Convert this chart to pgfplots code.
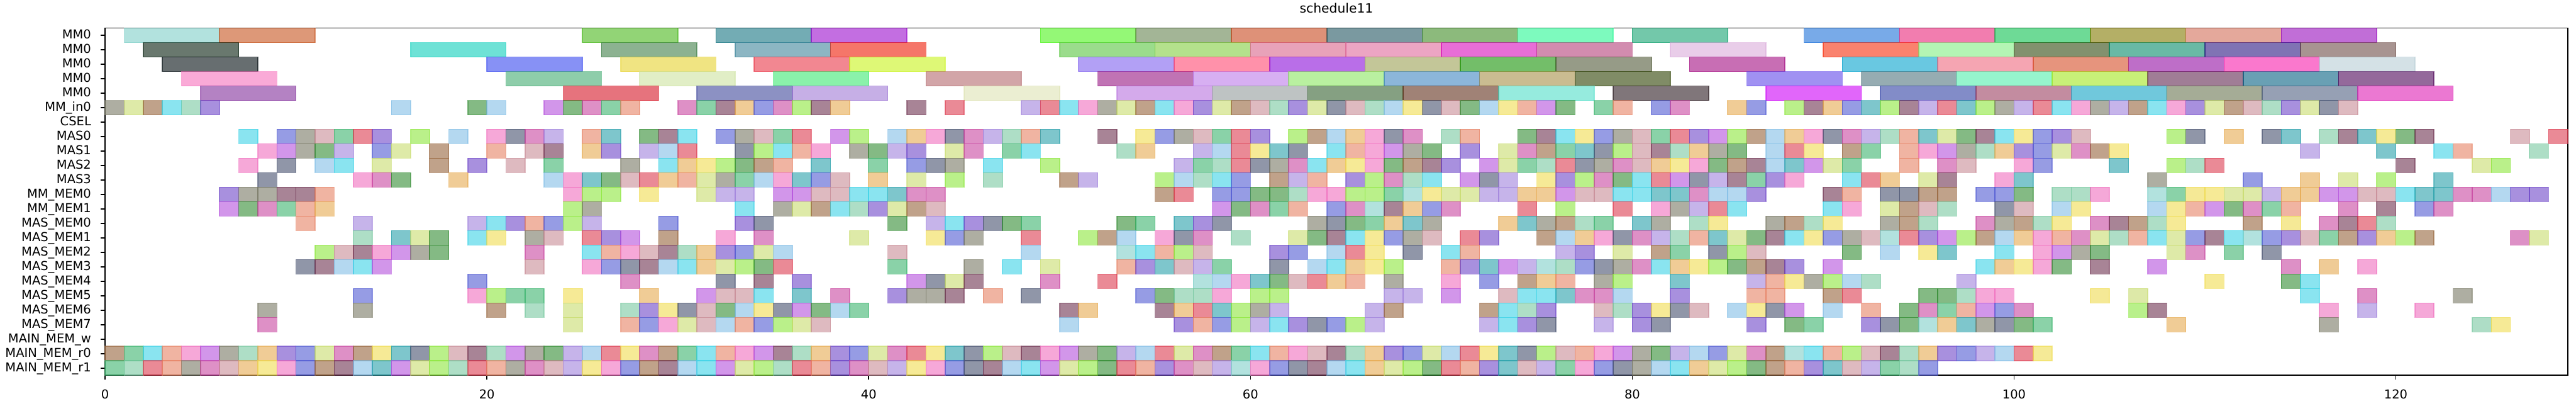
\documentclass[border=0pt]{standalone}
\usepackage{fontspec}
\setmainfont{DejaVu Sans}
\usepackage{pgfplots}
\usepackage{pgfplotstable}
\pgfplotsset{compat=1.18}

% one time unit = 15.2512pt, one row = 11.55pt
\pgfdeclareplotmark{cell}{\pgfpathrectangle{\pgfqpoint{-7.6256pt}{-5.775pt}}{\pgfqpoint{15.2512pt}{11.55pt}}\pgfusepathqfillstroke}
\pgfdeclareplotmark{bar5}{\pgfpathrectangle{\pgfqpoint{-38.128pt}{-5.775pt}}{\pgfqpoint{76.256pt}{11.55pt}}\pgfusepathqfillstroke}

\pgfplotsset{
  boxes/.style={only marks, scatter,
    scatter/use mapped color={draw=mapped color, fill=mapped color, fill opacity=0.6, draw opacity=0.6, line width=0.8pt}},
}
\newcommand\cellrow[2]{%
  \addplot[boxes, mark=cell, point meta={mod(7*\thisrow{x}+11*#1+4*mod(\thisrow{x}*#1,7),23)}]
    table[row sep=\\, x expr=\thisrow{x}+0.5, y expr=#1] {x\\#2};}

% MM0 tasks: start, row, colour index
\pgfplotstableread{
x y c
1 0 23
6 0 24
25 0 25
32 0 26
37 0 27
49 0 28
54 0 29
59 0 30
64 0 31
69 0 32
74 0 33
80 0 34
89 0 35
94 0 36
99 0 37
104 0 38
109 0 39
114 0 40
2 1 41
16 1 42
26 1 43
33 1 44
38 1 45
50 1 46
55 1 47
60 1 48
65 1 49
70 1 50
75 1 51
82 1 52
90 1 53
95 1 54
100 1 55
105 1 56
110 1 57
115 1 58
3 2 59
20 2 60
27 2 61
34 2 62
39 2 63
51 2 64
56 2 65
61 2 66
66 2 67
71 2 68
76 2 69
83 2 70
91 2 71
96 2 72
101 2 73
106 2 74
111 2 75
116 2 76
4 3 77
21 3 78
28 3 79
35 3 80
43 3 81
52 3 82
57 3 83
62 3 84
67 3 85
72 3 86
77 3 87
86 3 88
92 3 89
97 3 90
102 3 91
107 3 92
112 3 93
117 3 94
5 4 95
24 4 96
31 4 97
36 4 98
45 4 99
53 4 100
58 4 101
63 4 102
68 4 103
73 4 104
79 4 105
87 4 106
93 4 107
98 4 108
103 4 109
108 4 110
113 4 111
118 4 112
}\mmtable

\begin{document}
\begin{tikzpicture}
\path[use as bounding box] (-84pt,-24.3pt) rectangle (1974.1pt,299.6pt);
\begin{axis}[
  at={(0,0)}, anchor=south west,
  scale only axis, width=1967.4pt, height=277.2pt,
  xmin=0, xmax=129, ymin=-0.5, ymax=23.5, y dir=reverse,
  axis on top, clip=true,
  axis line style={line width=0.8pt},
  tick align=outside, tick pos=left,
  major tick length=3.5pt,
  every tick/.append style={line width=0.8pt, black},
  xtick={0,20,...,120},
  ytick={0,...,23},
  yticklabels={MM0,MM0,MM0,MM0,MM0,MM\_in0,CSEL,MAS0,MAS1,MAS2,MAS3,MM\_MEM0,MM\_MEM1,MAS\_MEM0,MAS\_MEM1,MAS\_MEM2,MAS\_MEM3,MAS\_MEM4,MAS\_MEM5,MAS\_MEM6,MAS\_MEM7,MAIN\_MEM\_w,MAIN\_MEM\_r0,MAIN\_MEM\_r1},
  /pgf/number format/assume math mode=true,
  ticklabel style={font=\fontsize{9.8}{11}\selectfont},
  xticklabel style={inner sep=0pt, anchor=north, yshift=-7.5pt},
  yticklabel style={inner sep=0pt, anchor=mid east, xshift=-7.5pt},
  title={schedule11},
  title style={font=\fontsize{10.2}{12}\selectfont, at={(0.5,1)}, anchor=base, yshift=6pt, inner sep=0pt},
  point meta min=0, point meta max=112,
  colormap={rnd}{
    rgb255=(60,180,110) rgb255=(200,70,160) rgb255=(80,90,210) rgb255=(230,170,80)
    rgb255=(110,50,80) rgb255=(140,230,60) rgb255=(40,160,170) rgb255=(220,60,80)
    rgb255=(160,130,220) rgb255=(120,120,100) rgb255=(240,110,190) rgb255=(60,210,230)
    rgb255=(150,100,60) rgb255=(200,220,110) rgb255=(110,70,200) rgb255=(120,200,160)
    rgb255=(200,140,150) rgb255=(70,80,110) rgb255=(240,220,80) rgb255=(130,190,230)
    rgb255=(50,140,50) rgb255=(180,80,220) rgb255=(230,130,100)
    rgb255=(127,207,200) rgb255=(198,83,30) rgb255=(73,183,27) rgb255=(22,117,130)
    rgb255=(155,13,205) rgb255=(77,243,27) rgb255=(102,132,80) rgb255=(200,72,30)
    rgb255=(33,85,97) rgb255=(63,140,37) rgb255=(38,247,147) rgb255=(22,163,113)
    rgb255=(30,113,217) rgb255=(233,38,122) rgb255=(13,193,80) rgb255=(130,122,0)
    rgb255=(210,110,88) rgb255=(152,13,188)
    rgb255=(5,30,13) rgb255=(13,207,187) rgb255=(63,127,72) rgb255=(63,133,155)
    rgb255=(238,27,5) rgb255=(88,197,63) rgb255=(130,205,63) rgb255=(217,100,138)
    rgb255=(223,105,155) rgb255=(217,13,188) rgb255=(180,63,122) rgb255=(218,172,218)
    rgb255=(247,47,13) rgb255=(130,238,130) rgb255=(47,72,13) rgb255=(5,138,105)
    rgb255=(43,22,130) rgb255=(110,77,72)
    rgb255=(2,13,17) rgb255=(55,72,238) rgb255=(230,210,47) rgb255=(233,55,72)
    rgb255=(200,243,27) rgb255=(127,97,238) rgb255=(255,72,113) rgb255=(138,13,217)
    rgb255=(155,160,83) rgb255=(22,147,5) rgb255=(80,88,55) rgb255=(163,13,130)
    rgb255=(5,163,205) rgb255=(238,105,127) rgb255=(213,77,38) rgb255=(147,13,163)
    rgb255=(247,30,172) rgb255=(183,205,213)
    rgb255=(247,113,188) rgb255=(67,172,113) rgb255=(205,227,160) rgb255=(60,233,113)
    rgb255=(180,105,110) rgb255=(150,22,130) rgb255=(188,122,233) rgb255=(138,230,97)
    rgb255=(63,133,193) rgb255=(167,143,72) rgb255=(43,63,0) rgb255=(97,72,233)
    rgb255=(80,117,127) rgb255=(80,238,172) rgb255=(163,230,30) rgb255=(97,38,80)
    rgb255=(5,97,130) rgb255=(77,5,88)
    rgb255=(130,47,155) rgb255=(213,22,38) rgb255=(63,72,155) rgb255=(160,122,213)
    rgb255=(222,227,180) rgb255=(183,113,222) rgb255=(147,155,155) rgb255=(52,97,47)
    rgb255=(97,47,27) rgb255=(80,222,200) rgb255=(43,27,33) rgb255=(205,0,247)
    rgb255=(47,63,163) rgb255=(155,63,97) rgb255=(17,163,197) rgb255=(105,117,80)
    rgb255=(80,97,130) rgb255=(222,30,180)},
]
% MM0 lanes (5 time units each)
\addplot[boxes, mark=bar5, point meta=explicit]
  table[x expr=\thisrow{x}+2.5, y=y, meta=c] {\mmtable};

% MM_in0
\cellrow{5}{0\\1\\2\\3\\4\\5\\15\\19\\20\\23\\24\\25\\26\\27\\30\\31\\32\\33\\34\\35\\36\\37\\38\\42\\44\\48\\49\\50\\51\\52\\53\\54\\55\\56\\57\\58\\59\\60\\61\\62\\63\\64\\65\\66\\67\\68\\69\\70\\71\\72\\73\\74\\75\\76\\78\\79\\81\\82\\85\\86\\88\\89\\90\\91\\92\\93\\94\\95\\96\\97\\98\\99\\100\\101\\102\\103\\104\\105\\106\\107\\108\\109\\110\\111\\112\\113\\114\\115\\116\\117\\}
% MAS0
\cellrow{7}{7\\9\\10\\11\\12\\13\\14\\16\\18\\20\\21\\22\\23\\25\\26\\28\\29\\30\\32\\33\\34\\35\\36\\38\\39\\41\\42\\43\\44\\45\\46\\47\\48\\49\\52\\54\\55\\56\\57\\58\\59\\60\\62\\63\\64\\65\\66\\67\\68\\70\\71\\74\\75\\76\\77\\78\\79\\80\\81\\82\\83\\84\\85\\86\\87\\88\\89\\90\\91\\92\\93\\94\\95\\96\\97\\98\\99\\100\\101\\102\\103\\108\\109\\111\\113\\114\\116\\117\\118\\119\\120\\121\\126\\128\\}
% MAS1
\cellrow{8}{8\\9\\10\\11\\12\\14\\15\\17\\20\\22\\23\\25\\26\\28\\29\\30\\33\\34\\35\\36\\37\\39\\40\\41\\42\\44\\45\\47\\48\\53\\54\\57\\58\\59\\60\\61\\62\\64\\65\\66\\67\\68\\69\\71\\73\\74\\75\\76\\77\\78\\79\\80\\81\\82\\83\\84\\85\\87\\88\\89\\91\\92\\94\\95\\96\\97\\98\\99\\100\\101\\102\\103\\104\\105\\115\\119\\122\\123\\127\\}
% MAS2
\cellrow{9}{7\\9\\11\\12\\14\\17\\19\\21\\23\\27\\29\\30\\31\\32\\33\\34\\35\\37\\40\\42\\43\\44\\46\\49\\56\\57\\58\\59\\60\\61\\62\\63\\64\\65\\66\\67\\68\\69\\70\\72\\73\\74\\75\\76\\77\\78\\79\\80\\81\\82\\83\\84\\85\\86\\87\\88\\89\\90\\91\\94\\96\\97\\100\\101\\105\\108\\109\\110\\120\\124\\125\\}
% MAS3
\cellrow{10}{8\\13\\14\\15\\18\\23\\24\\25\\26\\27\\28\\29\\30\\31\\32\\33\\34\\35\\36\\37\\38\\40\\42\\44\\46\\50\\51\\55\\56\\57\\58\\59\\61\\62\\63\\65\\66\\67\\68\\69\\71\\72\\73\\75\\76\\77\\78\\79\\80\\81\\82\\83\\84\\85\\86\\87\\88\\91\\92\\93\\95\\96\\99\\100\\107\\112\\115\\117\\119\\122\\}
% MM_MEM0
\cellrow{11}{6\\7\\8\\9\\10\\11\\24\\25\\26\\28\\31\\32\\33\\35\\36\\37\\38\\39\\40\\41\\42\\43\\55\\56\\58\\59\\60\\61\\62\\63\\64\\65\\66\\67\\68\\69\\70\\71\\72\\73\\74\\75\\76\\77\\78\\79\\80\\81\\82\\83\\84\\85\\86\\90\\91\\93\\94\\95\\96\\98\\99\\100\\102\\103\\104\\107\\108\\109\\110\\111\\112\\113\\114\\115\\116\\117\\118\\119\\120\\121\\122\\123\\124\\125\\126\\127\\}
% MM_MEM1
\cellrow{12}{6\\7\\8\\9\\10\\11\\24\\25\\33\\35\\36\\37\\38\\39\\40\\41\\42\\43\\58\\59\\60\\61\\62\\64\\65\\66\\67\\68\\69\\70\\74\\76\\79\\81\\82\\83\\84\\85\\90\\91\\93\\94\\95\\96\\99\\100\\102\\103\\107\\108\\109\\110\\111\\112\\113\\114\\117\\119\\121\\122\\}
% MAS_MEM0
\cellrow{13}{10\\13\\19\\20\\21\\22\\23\\24\\25\\29\\33\\34\\41\\43\\44\\45\\46\\47\\48\\53\\54\\56\\57\\58\\63\\64\\65\\66\\67\\68\\69\\73\\74\\75\\76\\77\\78\\80\\81\\83\\84\\87\\88\\89\\90\\93\\94\\95\\98\\99\\100\\101\\102\\104\\105\\106\\107\\108\\112\\114\\116\\117\\118\\119\\}
% MAS_MEM1
\cellrow{14}{13\\15\\16\\17\\19\\20\\22\\23\\25\\26\\27\\29\\32\\34\\39\\43\\44\\45\\48\\51\\52\\53\\55\\56\\57\\59\\62\\63\\64\\65\\66\\67\\68\\69\\71\\72\\75\\76\\77\\78\\79\\80\\81\\82\\83\\84\\85\\86\\87\\88\\89\\90\\91\\92\\93\\94\\95\\96\\97\\98\\99\\100\\101\\102\\103\\104\\105\\106\\107\\108\\109\\110\\111\\112\\113\\114\\115\\116\\117\\118\\119\\120\\121\\126\\127\\}
% MAS_MEM2
\cellrow{15}{11\\12\\13\\14\\15\\16\\17\\22\\25\\26\\27\\28\\29\\30\\31\\32\\33\\34\\35\\41\\48\\53\\54\\55\\56\\57\\61\\62\\64\\65\\66\\68\\70\\71\\76\\77\\79\\81\\82\\84\\85\\86\\91\\93\\95\\96\\99\\101\\102\\103\\104\\108\\109\\111\\113\\}
% MAS_MEM3
\cellrow{16}{10\\11\\12\\13\\14\\22\\25\\26\\27\\28\\29\\30\\31\\32\\33\\34\\35\\41\\45\\47\\49\\53\\54\\55\\56\\57\\58\\61\\63\\64\\65\\66\\67\\70\\71\\72\\73\\74\\75\\76\\77\\78\\79\\80\\81\\82\\83\\84\\85\\86\\87\\88\\90\\98\\99\\100\\101\\102\\104\\107\\114\\116\\118\\}
% MAS_MEM4
\cellrow{17}{19\\27\\32\\34\\36\\42\\43\\44\\45\\49\\52\\57\\58\\59\\60\\61\\62\\63\\64\\65\\67\\70\\72\\74\\75\\76\\78\\79\\82\\86\\87\\88\\89\\90\\91\\92\\97\\110\\114\\115\\}
% MAS_MEM5
\cellrow{18}{13\\19\\20\\21\\22\\24\\28\\31\\32\\33\\34\\36\\38\\41\\42\\43\\44\\46\\48\\54\\55\\56\\57\\58\\60\\61\\67\\68\\70\\73\\74\\75\\76\\77\\78\\79\\82\\86\\87\\90\\91\\95\\96\\97\\98\\99\\104\\106\\115\\118\\123\\}
% MAS_MEM6
\cellrow{19}{8\\13\\20\\22\\24\\27\\28\\29\\30\\31\\32\\33\\34\\35\\36\\37\\38\\39\\50\\51\\55\\56\\57\\58\\59\\60\\61\\66\\67\\72\\73\\74\\75\\78\\79\\80\\81\\82\\83\\85\\86\\87\\88\\90\\92\\94\\95\\96\\97\\98\\99\\100\\106\\107\\116\\118\\121\\}
% MAS_MEM7
\cellrow{20}{8\\24\\27\\28\\29\\30\\31\\32\\33\\34\\35\\36\\37\\50\\56\\57\\58\\59\\60\\61\\62\\63\\64\\65\\66\\72\\73\\74\\75\\78\\80\\81\\86\\88\\89\\92\\93\\94\\95\\96\\97\\98\\99\\100\\101\\108\\116\\124\\125\\}
% MAIN_MEM_r0
\cellrow{22}{0\\1\\2\\3\\4\\5\\6\\7\\8\\9\\10\\11\\12\\13\\14\\15\\16\\17\\18\\19\\20\\21\\22\\23\\24\\25\\26\\27\\28\\29\\30\\31\\32\\33\\34\\35\\36\\37\\38\\39\\40\\41\\42\\43\\44\\45\\46\\47\\48\\49\\50\\51\\52\\53\\54\\55\\56\\57\\58\\59\\60\\61\\62\\63\\64\\65\\66\\67\\68\\69\\70\\71\\72\\73\\74\\75\\76\\77\\78\\79\\80\\81\\82\\83\\84\\85\\86\\87\\88\\89\\90\\91\\92\\93\\94\\95\\96\\97\\98\\99\\100\\101\\}
% MAIN_MEM_r1
\cellrow{23}{0\\1\\2\\3\\4\\5\\6\\7\\8\\9\\10\\11\\12\\13\\14\\15\\16\\17\\18\\19\\20\\21\\22\\23\\24\\25\\26\\27\\28\\29\\30\\31\\32\\33\\34\\35\\36\\37\\38\\39\\40\\41\\42\\43\\44\\45\\46\\47\\48\\49\\50\\51\\52\\53\\54\\55\\56\\57\\58\\59\\60\\61\\62\\63\\64\\65\\66\\67\\68\\69\\70\\71\\72\\73\\74\\75\\76\\77\\78\\79\\80\\81\\82\\83\\84\\85\\86\\87\\88\\89\\90\\91\\92\\93\\94\\95\\}
\end{axis}
\end{tikzpicture}
\end{document}
